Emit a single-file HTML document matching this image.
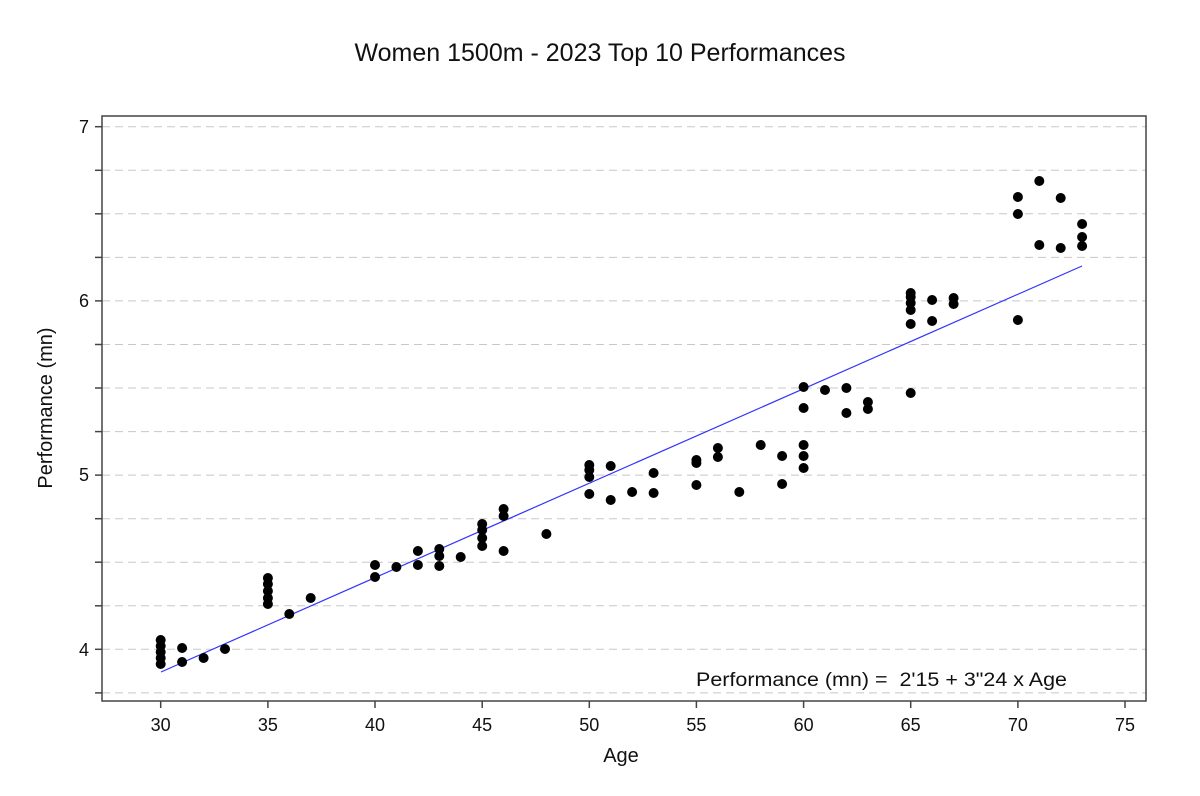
<!DOCTYPE html>
<html><head><meta charset="utf-8"><style>body{margin:0;background:#fff}svg{display:block}text{font-family:"Liberation Sans",Arial,sans-serif;fill:#111}</style></head>
<body>
<svg width="1200" height="796" viewBox="0 0 1200 796" xmlns="http://www.w3.org/2000/svg">
<text x="600" y="61" font-size="25" text-anchor="middle">Women 1500m - 2023 Top 10 Performances</text>
<g stroke="#c8c8c8" stroke-width="1" stroke-dasharray="8,5">
<line x1="102" x2="1146" y1="126.7" y2="126.7"/><line x1="102" x2="1146" y1="170.3" y2="170.3"/>
<line x1="102" x2="1146" y1="213.8" y2="213.8"/><line x1="102" x2="1146" y1="257.4" y2="257.4"/>
<line x1="102" x2="1146" y1="300.9" y2="300.9"/><line x1="102" x2="1146" y1="344.5" y2="344.5"/>
<line x1="102" x2="1146" y1="388" y2="388"/><line x1="102" x2="1146" y1="431.6" y2="431.6"/>
<line x1="102" x2="1146" y1="475.1" y2="475.1"/><line x1="102" x2="1146" y1="518.7" y2="518.7"/>
<line x1="102" x2="1146" y1="562.2" y2="562.2"/><line x1="102" x2="1146" y1="605.8" y2="605.8"/>
<line x1="102" x2="1146" y1="649.3" y2="649.3"/><line x1="102" x2="1146" y1="692.9" y2="692.9"/>
</g>
<rect x="102" y="116" width="1044" height="585" fill="none" stroke="#444" stroke-width="1.5"/>
<g stroke="#444" stroke-width="1.5">
<line x1="95" x2="102" y1="126.7" y2="126.7"/><line x1="95" x2="102" y1="170.3" y2="170.3"/><line x1="95" x2="102" y1="213.8" y2="213.8"/><line x1="95" x2="102" y1="257.4" y2="257.4"/><line x1="95" x2="102" y1="300.9" y2="300.9"/><line x1="95" x2="102" y1="344.5" y2="344.5"/><line x1="95" x2="102" y1="388" y2="388"/><line x1="95" x2="102" y1="431.6" y2="431.6"/><line x1="95" x2="102" y1="475.1" y2="475.1"/><line x1="95" x2="102" y1="518.7" y2="518.7"/><line x1="95" x2="102" y1="562.2" y2="562.2"/><line x1="95" x2="102" y1="605.8" y2="605.8"/><line x1="95" x2="102" y1="649.3" y2="649.3"/><line x1="95" x2="102" y1="692.9" y2="692.9"/>
<line x1="160.7" x2="160.7" y1="701" y2="708"/><line x1="267.9" x2="267.9" y1="701" y2="708"/><line x1="375" x2="375" y1="701" y2="708"/><line x1="482.2" x2="482.2" y1="701" y2="708"/><line x1="589.3" x2="589.3" y1="701" y2="708"/><line x1="696.4" x2="696.4" y1="701" y2="708"/><line x1="803.6" x2="803.6" y1="701" y2="708"/><line x1="910.7" x2="910.7" y1="701" y2="708"/><line x1="1017.9" x2="1017.9" y1="701" y2="708"/><line x1="1125" x2="1125" y1="701" y2="708"/>
</g>
<g font-size="18" text-anchor="end">
<text x="89" y="133">7</text><text x="89" y="307">6</text><text x="89" y="481">5</text><text x="89" y="656">4</text>
</g>
<g font-size="18" text-anchor="middle">
<text x="160.7" y="731">30</text><text x="267.9" y="731">35</text><text x="375" y="731">40</text><text x="482.2" y="731">45</text><text x="589.3" y="731">50</text><text x="696.4" y="731">55</text><text x="803.6" y="731">60</text><text x="910.7" y="731">65</text><text x="1017.9" y="731">70</text><text x="1125" y="731">75</text>
</g>
<text x="621" y="762" font-size="20" text-anchor="middle">Age</text>
<text transform="translate(52,408) rotate(-90)" font-size="20" text-anchor="middle">Performance (mn)</text>
<line x1="161" y1="672" x2="1082" y2="266" stroke="#3333ff" stroke-width="1.2"/>
<g fill="#000">
<circle cx="160.7" cy="640" r="5"/><circle cx="160.7" cy="646" r="5"/><circle cx="160.7" cy="652" r="5"/><circle cx="160.7" cy="658" r="5"/><circle cx="160.7" cy="664" r="5"/>
<circle cx="182.1" cy="648" r="5"/><circle cx="182.1" cy="662" r="5"/>
<circle cx="203.6" cy="658" r="5"/><circle cx="225" cy="649" r="5"/>
<circle cx="267.9" cy="578" r="5"/><circle cx="267.9" cy="584" r="5"/><circle cx="267.9" cy="591" r="5"/><circle cx="267.9" cy="598" r="5"/><circle cx="267.9" cy="604" r="5"/>
<circle cx="289.3" cy="614" r="5"/><circle cx="310.7" cy="598" r="5"/>
<circle cx="375" cy="565" r="5"/><circle cx="375" cy="577" r="5"/>
<circle cx="396.4" cy="567" r="5"/>
<circle cx="417.9" cy="551" r="5"/><circle cx="417.9" cy="565" r="5"/>
<circle cx="439.3" cy="549" r="5"/><circle cx="439.3" cy="556" r="5"/><circle cx="439.3" cy="566" r="5"/>
<circle cx="460.7" cy="557" r="5"/>
<circle cx="482.2" cy="524" r="5"/><circle cx="482.2" cy="530" r="5"/><circle cx="482.2" cy="538" r="5"/><circle cx="482.2" cy="546" r="5"/>
<circle cx="503.6" cy="509" r="5"/><circle cx="503.6" cy="516" r="5"/><circle cx="503.6" cy="551" r="5"/>
<circle cx="546.4" cy="534" r="5"/>
<circle cx="589.3" cy="465" r="5"/><circle cx="589.3" cy="470" r="5"/><circle cx="589.3" cy="477" r="5"/><circle cx="589.3" cy="494" r="5"/>
<circle cx="610.7" cy="466" r="5"/><circle cx="610.7" cy="500" r="5"/>
<circle cx="632.1" cy="492" r="5"/>
<circle cx="653.6" cy="473" r="5"/><circle cx="653.6" cy="493" r="5"/>
<circle cx="696.4" cy="460" r="5"/><circle cx="696.4" cy="463" r="5"/><circle cx="696.4" cy="485" r="5"/>
<circle cx="717.9" cy="448" r="5"/><circle cx="717.9" cy="457" r="5"/>
<circle cx="739.3" cy="492" r="5"/><circle cx="760.7" cy="445" r="5"/>
<circle cx="782.1" cy="456" r="5"/><circle cx="782.1" cy="484" r="5"/>
<circle cx="803.6" cy="387" r="5"/><circle cx="803.6" cy="408" r="5"/><circle cx="803.6" cy="445" r="5"/><circle cx="803.6" cy="456" r="5"/><circle cx="803.6" cy="468" r="5"/>
<circle cx="825" cy="390" r="5"/>
<circle cx="846.4" cy="388" r="5"/><circle cx="846.4" cy="413" r="5"/>
<circle cx="867.9" cy="402" r="5"/><circle cx="867.9" cy="409" r="5"/>
<circle cx="910.7" cy="293" r="5"/><circle cx="910.7" cy="297" r="5"/><circle cx="910.7" cy="303" r="5"/><circle cx="910.7" cy="310" r="5"/><circle cx="910.7" cy="324" r="5"/><circle cx="910.7" cy="393" r="5"/>
<circle cx="932.1" cy="300" r="5"/><circle cx="932.1" cy="321" r="5"/>
<circle cx="953.6" cy="298" r="5"/><circle cx="953.6" cy="304" r="5"/>
<circle cx="1017.9" cy="197" r="5"/><circle cx="1017.9" cy="214" r="5"/><circle cx="1017.9" cy="320" r="5"/>
<circle cx="1039.3" cy="181" r="5"/><circle cx="1039.3" cy="245" r="5"/>
<circle cx="1060.7" cy="198" r="5"/><circle cx="1060.7" cy="248" r="5"/>
<circle cx="1082.1" cy="224" r="5"/><circle cx="1082.1" cy="237" r="5"/><circle cx="1082.1" cy="246" r="5"/>
</g>
<text x="696" y="686" font-size="19" textLength="371" lengthAdjust="spacingAndGlyphs" xml:space="preserve">Performance (mn) =  2'15 + 3"24 x Age</text>
</svg>
</body></html>
